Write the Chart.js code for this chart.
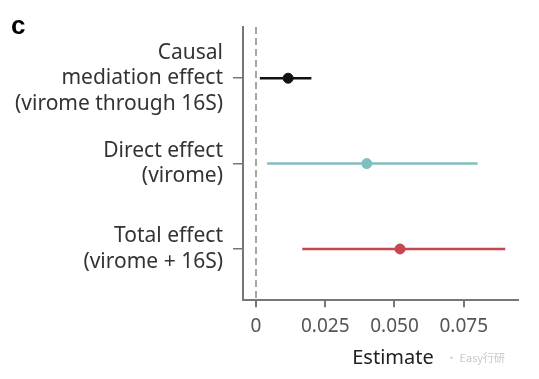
<!DOCTYPE html>
<html>
<head>
<meta charset="utf-8">
<script src="https://cdn.jsdelivr.net/npm/chart.js@4"></script>
<style>
  html, body { margin: 0; padding: 0; background: #fff; }
  #wrap { width: 539px; height: 379px; }
</style>
</head>
<body>
<div id="wrap"><canvas id="myChart"></canvas></div>
<script>
// data
const effects = [
  ["Causal", "mediation effect", "(virome through 16S)"],
  ["Direct effect", "(virome)"],
  ["Total effect", "(virome + 16S)"]
];
const estimates = [0.0116, 0.040, 0.052];
const lower = [0.0014, 0.004, 0.0167];
const upper = [0.020, 0.080, 0.090];
const colors = ["#111111", "#7fbfc0", "#c8464f"];
const xTicks = [0, 0.025, 0.05, 0.075];
const xTickLabels = ["0", "0.025", "0.050", "0.075"];

const datasets = [];

// dashed reference line at zero
datasets.push({
  type: "line",
  data: [{ x: 0, y: -0.6 }, { x: 0, y: 2.6 }],
  borderColor: "#888",
  borderWidth: 1.5,
  borderDash: [7, 4],
  pointRadius: 0,
  showLine: true
});

effects.forEach((e, i) => {
  datasets.push({
    type: "line",
    data: [{ x: lower[i], y: i }, { x: upper[i], y: i }],
    borderColor: colors[i],
    borderWidth: 2.5,
    pointRadius: 0,
    showLine: true
  });
  datasets.push({
    type: "scatter",
    data: [{ x: estimates[i], y: i }],
    backgroundColor: colors[i],
    borderColor: colors[i],
    pointRadius: 5
  });
});

const ctx = document.getElementById("myChart").getContext("2d");

const myChart = new Chart(ctx, {
  type: "scatter",
  data: { datasets: datasets },
  plugins: [
    {
      afterDraw: chart => {
        const c = chart.ctx;
        c.save();
        c.fillStyle = "#000";
        c.font = "bold 26px 'Liberation Sans'";
        c.textBaseline = "alphabetic";
        c.fillText("c", 11, 34);
        c.fillStyle = "#222";
        c.font = "20px 'Noto Sans'";
        c.textAlign = "center";
        c.fillText("Estimate", 393, 364);
        c.fillStyle = "#c8c8c8";
        c.font = "11px 'Noto Sans CJK SC'";
        c.textAlign = "left";
        c.fillText("· Easy行研", 446, 362);
        c.restore();
      }
    }
  ],
  options: {
    responsive: true,
    maintainAspectRatio: false,
    animation: false,
    layout: { padding: { top: 27, right: 21, bottom: 33, left: 5 } },
    plugins: {
      legend: { display: false },
      tooltip: { enabled: false }
    },
    scales: {
      x: {
        type: "linear",
        min: -0.0047,
        max: 0.0946,
        afterBuildTicks: axis => {
          axis.ticks = xTicks.map(v => ({ value: v }));
        },
        border: { color: "#777", width: 2 },
        grid: { drawOnChartArea: false, drawTicks: true, tickLength: 7, color: "#777", lineWidth: 2 },
        ticks: {
          padding: 8,
          color: "#555",
          font: { family: "Noto Sans", size: 19 },
          callback: (v, idx) => xTickLabels[idx]
        }
      },
      y: {
        type: "linear",
        reverse: true,
        min: -0.6,
        max: 2.6,
        afterBuildTicks: axis => {
          axis.ticks = effects.map((e, i) => ({ value: i }));
        },
        afterFit: axis => {
          axis.paddingTop = 0;
          axis.paddingBottom = 0;
        },
        border: { color: "#777", width: 2 },
        grid: { drawOnChartArea: false, drawTicks: true, tickLength: 10, color: "#777", lineWidth: 1.5 },
        ticks: {
          padding: 10,
          color: "#333",
          font: { family: "Noto Sans", size: 21, lineHeight: 1.22 },
          callback: (v, idx) => effects[idx]
        }
      }
    }
  }
});
</script>
</body>
</html>
